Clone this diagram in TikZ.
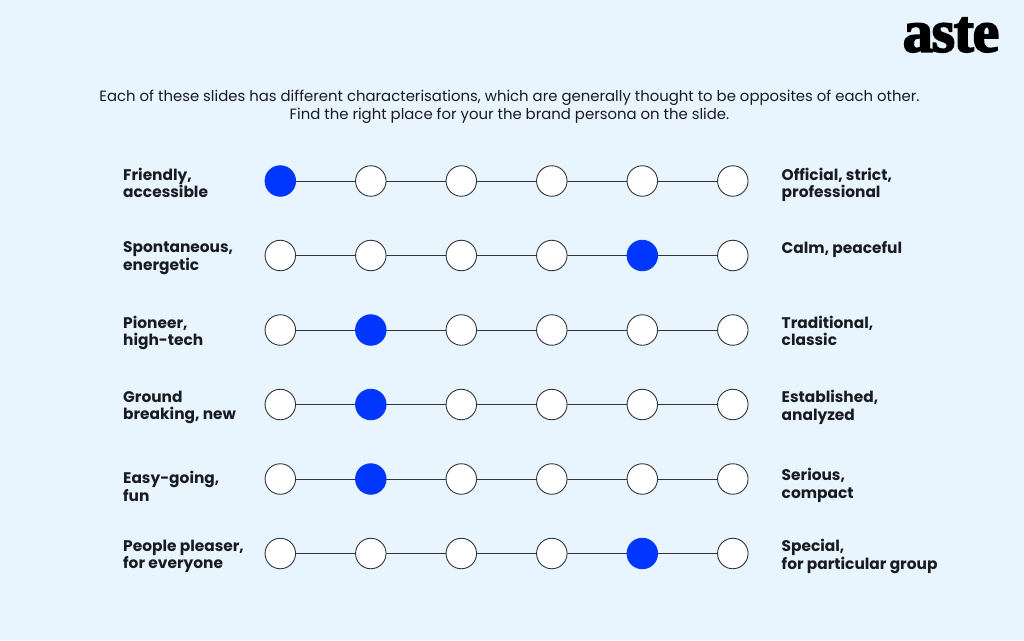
\documentclass[tikz,border=0pt]{standalone}
\usepackage{fontspec}
\setmainfont{Poppins}
\newfontfamily\logofont[FakeBold=3,LetterSpace=-2]{Liberation Serif}
\definecolor{bgc}{HTML}{E8F5FE}
\definecolor{ink}{HTML}{1A1A22}
\definecolor{lnc}{HTML}{33333A}
\definecolor{blu}{HTML}{0036FF}
\newcommand{\stt}{\rule[-0.35em]{0pt}{1.0em}}
\tikzset{
 dot/.style={circle,draw=lnc,line width=0.9pt,fill=white,minimum size=30.5pt,inner sep=0pt},
 dotx/.style={circle,draw=blu,line width=0.9pt,fill=blu,minimum size=30.5pt,inner sep=0pt},
 lab/.style={anchor=west,align=left,font=\fontsize{15.4}{17.8}\selectfont\bfseries,text=ink,inner sep=0pt},
 lin/.style={draw=lnc,line width=0.9pt},
 head/.style={align=center,font=\fontsize{14.88}{18}\selectfont,text=ink,inner sep=0pt}
}
\begin{document}
\begin{tikzpicture}[x=1pt,y=-1pt]
\path[fill=bgc] (0,0) rectangle (1024,640);
\useasboundingbox (0,0) rectangle (1024,640);
\node[head] (h) at (509.5,107.5) {\stt Each of these slides has different characterisations, which are generally thought to be opposites of each other.\\\stt Find the right place for your the brand persona on the slide.};
\node[anchor=center,inner sep=0pt,text=black,font=\logofont\fontsize{60}{60}\selectfont\bfseries] (logo) at (951,35) {aste};
\foreach \r/\y/\s/\ya/\a/\yb/\b in {
 1/181/0/185.5/{\stt Friendly,\\\stt accessible}/185.5/{\stt Official, strict,\\\stt professional},
 2/255.5/4/259/{\stt Spontaneous,\\\stt energetic}/250.5/{\stt Calm, peaceful},
 3/330/1/333.5/{\stt Pioneer,\\\stt high-tech}/333.5/{\stt Traditional,\\\stt classic},
 4/404.5/1/408/{\stt Ground\\\stt breaking, new}/408/{\stt Established,\\\stt analyzed},
 5/479/1/489/{\stt Easy-going,\\\stt fun}/486/{\stt Serious,\\\stt compact},
 6/553.5/4/557/{\stt People pleaser,\\\stt for everyone}/557/{\stt Special,\\\stt for particular group}}{
 \node[lab] (l\r) at (123,\ya) {\a};
 \node[lab] (r\r) at (781.5,\yb) {\b};
 \foreach \c/\x in {0/280.3,1/370.8,2/461.3,3/551.8,4/642.3,5/732.8}{
  \coordinate (c\r-\c) at (\x,\y);
 }
 \draw[lin] (c\r-0) -- (c\r-5);
 \foreach \c in {0,...,5}{
  \ifnum\c=\s\relax
   \node[dotx] (n\r-\c) at (c\r-\c) {};
  \else
   \node[dot] (n\r-\c) at (c\r-\c) {};
  \fi
 }
}
\end{tikzpicture}
\end{document}
